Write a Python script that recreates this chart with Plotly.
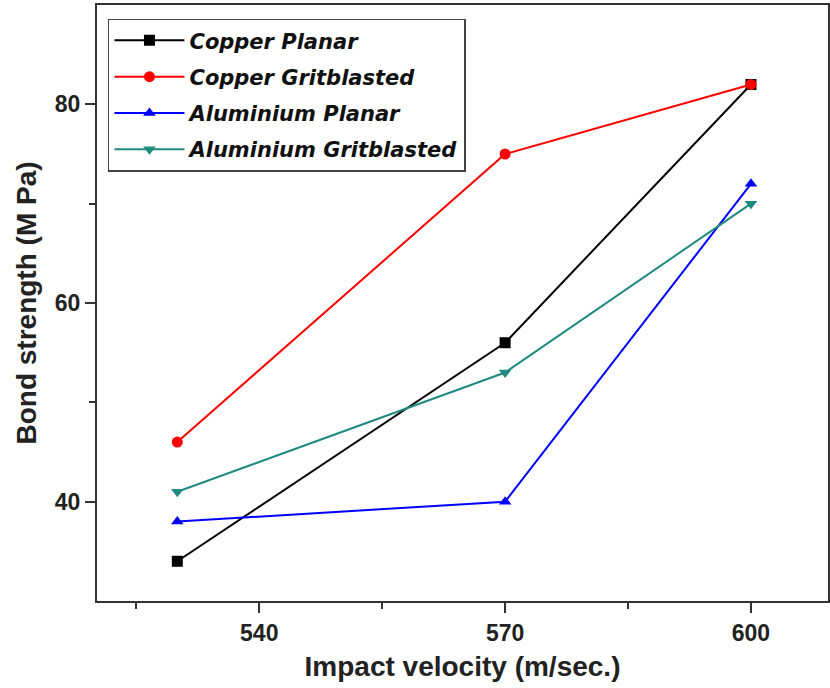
import plotly.graph_objects as go

velocity = [530, 570, 600]
copper_planar = [34, 56, 82]
copper_grit = [46, 75, 82]
al_planar = [38, 40, 72]
al_grit = [41, 53, 70]

series = [
    ("Copper Planar", copper_planar, "#000000", "square"),
    ("Copper Gritblasted", copper_grit, "#ff0000", "circle"),
    ("Aluminium Planar", al_planar, "#0000ff", "triangle-up"),
    ("Aluminium Gritblasted", al_grit, "#1f8a80", "triangle-down"),
]

fig = go.Figure()
for i, (name, ys, col, sym) in enumerate(series):
    fig.add_trace(go.Scatter(
        x=velocity, y=ys, name=name, mode="lines+markers",
        legendgroup=f"g{i}",
        line=dict(color=col, width=2),
        marker=dict(color=col, symbol=sym, size=11),
    ))

tick_font = dict(family="Liberation Sans", size=23, color="#222", weight="bold")
title_font = dict(family="Liberation Sans", size=28, color="#222")
fig.update_layout(
    width=830, height=688,
    margin=dict(l=97, r=0, t=5, b=87),
    paper_bgcolor="white", plot_bgcolor="white",
    showlegend=True,
    legend=dict(
        x=0.0150, y=0.977, xanchor="left", yanchor="top",
        bordercolor="#444", borderwidth=1.5, bgcolor="white",
        font=dict(family="DejaVu Sans", size=21, color="#111", style="italic", weight="bold"),
        itemwidth=70, tracegroupgap=6, traceorder="grouped",
    ),
    xaxis=dict(
        range=[520.2, 609.4], tickvals=[540, 570, 600],
        showline=True, linecolor="#333", linewidth=2, mirror=True,
        ticks="outside", ticklen=10, tickwidth=1.5, tickcolor="#333",
        minor=dict(tickvals=[525, 555, 585], ticks="outside", ticklen=6, tickcolor="#333"),
        showgrid=False, zeroline=False,
        tickfont=tick_font,
        title=dict(text="<b>Impact velocity (m/sec.)</b>", font=title_font, standoff=12),
    ),
    yaxis=dict(
        range=[30, 90], tickvals=[40, 60, 80],
        showline=True, linecolor="#333", linewidth=2, mirror=True,
        ticks="outside", ticklen=10, tickwidth=1.5, tickcolor="#333",
        minor=dict(tickvals=[50, 70], ticks="outside", ticklen=6, tickcolor="#333"),
        showgrid=False, zeroline=False,
        tickfont=tick_font,
        title=dict(text="<b>Bond strength (M Pa)</b>", font=title_font, standoff=10),
    ),
)

fig.write_html("out.html")
